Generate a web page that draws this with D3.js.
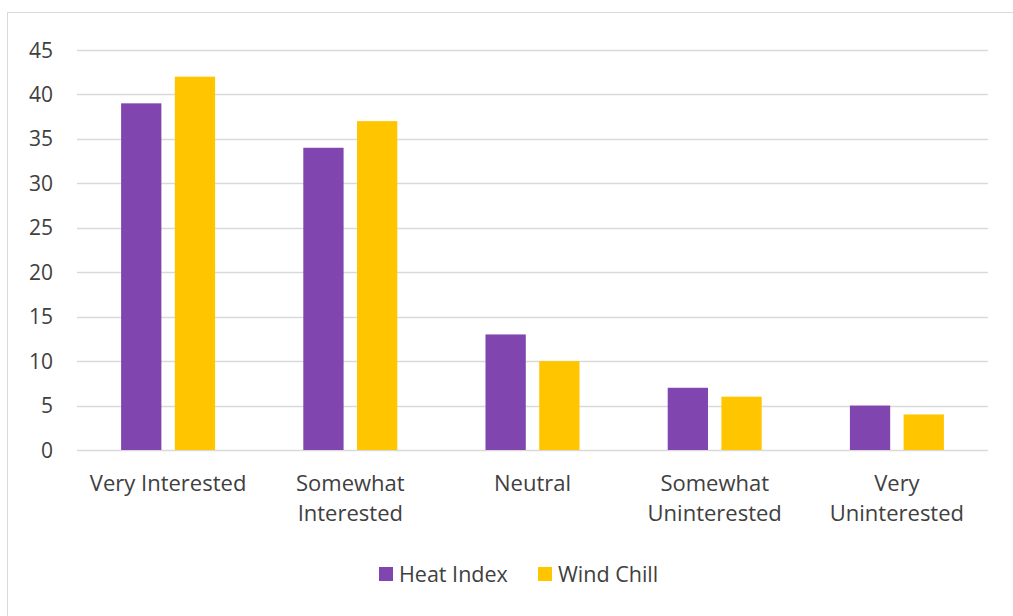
<!DOCTYPE html>
<html><head><meta charset="utf-8">
<script src="https://cdn.jsdelivr.net/npm/d3@7"></script>
<style>body{margin:0;background:#fff}svg{display:block}text{font-family:"Open Sans",sans-serif;fill:#404040}</style>
</head><body><svg id="c" width="1013" height="616"></svg>
<script>
const categories = [["Very Interested"],["Somewhat","Interested"],["Neutral"],["Somewhat","Uninterested"],["Very","Uninterested"]];
const seriesNames = ["Heat Index","Wind Chill"];
const heatIndex = [39,34,13,7,5];
const windChill = [42,37,10,6,4];
const yTicks = [0,5,10,15,20,25,30,35,40,45];
const colors = ["#8045AE","#FFC600"];

(function(){
const svg = d3.select("#c");
svg.append("rect").attr("x",7.5).attr("y",12.5).attr("width",1013).attr("height",620).attr("fill","none").attr("stroke","#D9D9D9");

const pl=77, pr=988, pt=50, pb=450;
const x = d3.scaleBand().domain(d3.range(categories.length)).range([pl,pr]);
const y = d3.scaleLinear().domain([0,45]).range([pb,pt]);
const inner = d3.scaleBand().domain([0,1]).range([0,94]).paddingInner(0.25);

svg.append("g").selectAll("line").data(yTicks).join("line")
  .attr("x1",pl).attr("x2",pr).attr("y1",d=>Math.round(y(d))+0.5).attr("y2",d=>Math.round(y(d))+0.5)
  .attr("stroke","#D9D9D9").attr("stroke-width",1.5);

svg.append("g").selectAll("text").data(yTicks).join("text")
  .attr("x",53).attr("y",d=>y(d)).attr("dy","0.36em").attr("text-anchor","end")
  .style("font-size","21px").text(d=>d);

const data = [heatIndex, windChill];
data.forEach((vals,si)=>{
  svg.append("g").selectAll("rect").data(vals).join("rect")
    .attr("x",(d,i)=>x(i)+x.bandwidth()/2-47+inner(si))
    .attr("width",inner.bandwidth())
    .attr("y",d=>y(d)).attr("height",d=>y(0)-y(d))
    .attr("fill",colors[si]);
});

const lab = svg.append("g");
categories.forEach((lines,i)=>{
  const t = lab.append("text").attr("x",x(i)+x.bandwidth()/2).attr("y",491).attr("text-anchor","middle").style("font-size","22px");
  lines.forEach((l,j)=>t.append("tspan").attr("x",x(i)+x.bandwidth()/2).attr("dy",j?29.5:0).text(l));
});

const legX=[379,538];
seriesNames.forEach((n,i)=>{
  svg.append("rect").attr("x",legX[i]).attr("y",567).attr("width",14).attr("height",14).attr("fill",colors[i]);
  svg.append("text").attr("x",legX[i]+20).attr("y",582).style("font-size","21.5px").text(n);
});
})();
</script></body></html>
